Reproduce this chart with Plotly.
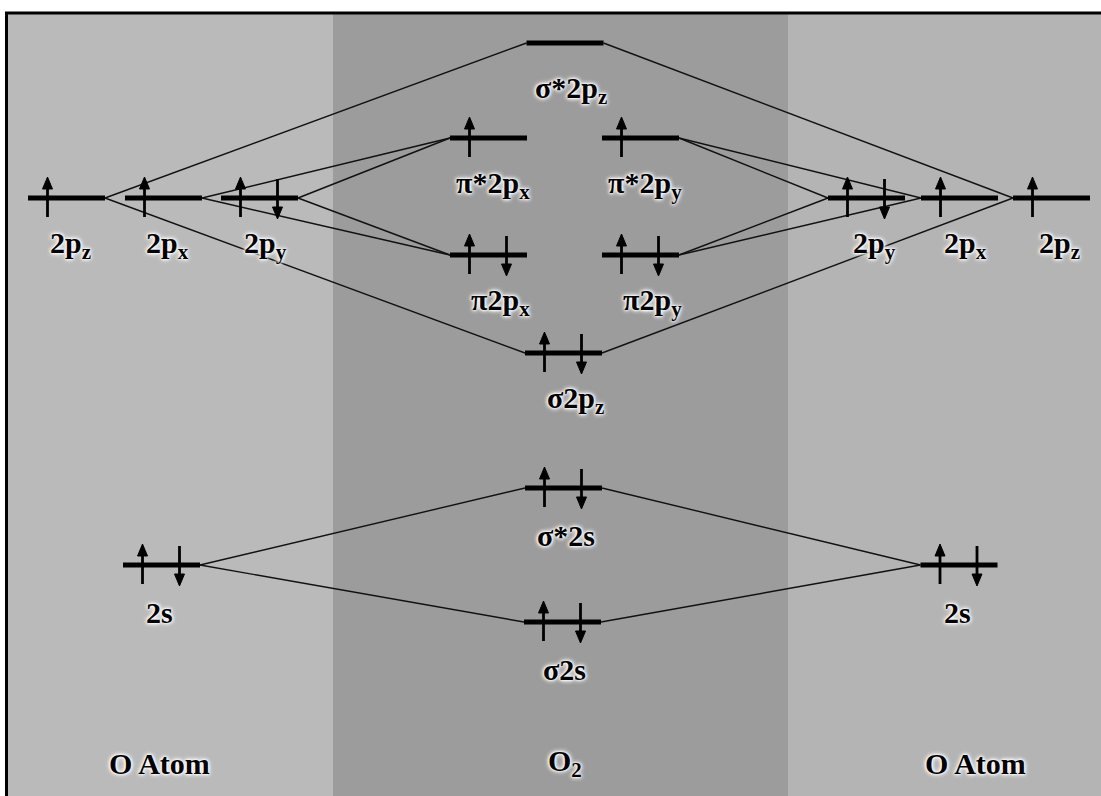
import plotly.graph_objects as go

# ---------------- data ----------------
level_names = ["L2pz", "L2px", "L2py", "L2s",
               "s*2pz", "p*2px", "p*2py", "p2px", "p2py", "s2pz", "s*2s", "s2s",
               "R2py", "R2px", "R2pz", "R2s"]
level_x = [66.5, 163.5, 259.5, 161.5,
           565, 488.5, 640.5, 488.5, 640.5, 563.5, 563.5, 562.5,
           866.5, 959.5, 1051.5, 959]
level_energy = [598, 598, 598, 231,
                753, 658, 658, 541, 541, 443, 308, 174,
                598, 598, 598, 231]
level_electrons = [1, 1, 2, 2,
                   0, 1, 1, 2, 2, 2, 2, 2,
                   2, 1, 1, 2]
level_labels = ["2p<sub>z</sub>", "2p<sub>x</sub>", "2p<sub>y</sub>", "2s",
                "σ*2p<sub>z</sub>", "π*2p<sub>x</sub>", "π*2p<sub>y</sub>",
                "π2p<sub>x</sub>", "π2p<sub>y</sub>", "σ2p<sub>z</sub>", "σ*2s", "σ2s",
                "2p<sub>y</sub>", "2p<sub>x</sub>", "2p<sub>z</sub>", "2s"]
label_dx = [4, 4, 6, -2,
            6, 4, 4, 12, 12, 12, 2, 2,
            8, 6, 8, -2]

connections = [("L2pz", "s*2pz"), ("L2pz", "s2pz"),
               ("L2px", "p*2px"), ("L2px", "p2px"),
               ("L2py", "p*2px"), ("L2py", "p2px"),
               ("L2s", "s*2s"), ("L2s", "s2s"),
               ("s*2pz", "R2pz"), ("s2pz", "R2pz"),
               ("p*2py", "R2py"), ("p*2py", "R2px"),
               ("p2py", "R2py"), ("p2py", "R2px"),
               ("s*2s", "R2s"), ("s2s", "R2s")]

column_titles = ["O Atom", "O<sub>2</sub>", "O Atom"]
column_title_x = [159, 565, 975]

# ---------------- geometry / style ----------------
HALF = 38.5
FONT = dict(family="Liberation Serif, Times New Roman, serif", size=30, color="black",
            weight="bold",
            shadow="0 0 2px white, 0 0 3px white, 0 0 5px white, 0 0 5px white")

idx = {n: i for i, n in enumerate(level_names)}

bx, by = [], []
for x, e in zip(level_x, level_energy):
    bx += [x - HALF, x + HALF, None]
    by += [e, e, None]

cx, cy = [], []
for a, b in connections:
    i, j = idx[a], idx[b]
    cx += [level_x[i] + HALF, level_x[j] - HALF, None]
    cy += [level_energy[i], level_energy[j], None]

sx, sy, hx, hy = [], [], [], []
for x, e, n in zip(level_x, level_energy, level_electrons):
    if n >= 1:
        ax = x - 19
        sx += [ax, ax, None]
        sy += [e - 19, e + 10, None]
        hx += [ax - 5, ax + 5, ax, ax - 5, None]
        hy += [e + 9, e + 9, e + 21, e + 9, None]
    if n >= 2:
        ax = x + 18
        sx += [ax, ax, None]
        sy += [e + 19, e - 10, None]
        hx += [ax - 5, ax + 5, ax, ax - 5, None]
        hy += [e - 9, e - 9, e - 21, e - 9, None]

fig = go.Figure()
fig.add_trace(go.Scatter(x=cx, y=cy, mode="lines", line=dict(color="#111", width=1.4),
                         hoverinfo="skip", showlegend=False))
fig.add_trace(go.Scatter(x=bx, y=by, mode="lines", line=dict(color="black", width=5),
                         hoverinfo="skip", showlegend=False))
fig.add_trace(go.Scatter(x=sx, y=sy, mode="lines", line=dict(color="black", width=2.8),
                         hoverinfo="skip", showlegend=False))
fig.add_trace(go.Scatter(x=hx, y=hy, mode="lines", fill="toself", fillcolor="black",
                         line=dict(color="black", width=1),
                         hoverinfo="skip", showlegend=False))

annotations = []
for x, e, lab, dx in zip(level_x, level_energy, level_labels, label_dx):
    annotations.append(dict(x=x + dx, y=e - 47, text=lab, showarrow=False,
                            xanchor="center", yanchor="middle", font=FONT))
for t, x in zip(column_titles, column_title_x):
    annotations.append(dict(x=x, y=33, text=t, showarrow=False,
                            xanchor="center", yanchor="middle", font=FONT))

shapes = [
    dict(type="rect", x0=8, x1=333, y0=0, y1=783, fillcolor="#bababa", line_width=0, layer="below"),
    dict(type="rect", x0=333, x1=788, y0=0, y1=783, fillcolor="#9c9c9c", line_width=0, layer="below"),
    dict(type="rect", x0=788, x1=1101, y0=0, y1=783, fillcolor="#b4b4b4", line_width=0, layer="below"),
    dict(type="line", x0=5, x1=1101, y0=783, y1=783, line=dict(color="black", width=3)),
    dict(type="line", x0=6.5, x1=6.5, y0=0, y1=784, line=dict(color="black", width=3)),
]

fig.update_layout(
    width=1101, height=796,
    margin=dict(l=0, r=0, t=0, b=0),
    paper_bgcolor="white", plot_bgcolor="white",
    xaxis=dict(range=[0, 1101], visible=False, fixedrange=True),
    yaxis=dict(range=[0, 796], visible=False, fixedrange=True),
    annotations=annotations, shapes=shapes,
)

fig.write_html("out.html", config={"displayModeBar": False},
               post_script="document.body.style.margin='0';document.body.style.overflow='hidden';")
